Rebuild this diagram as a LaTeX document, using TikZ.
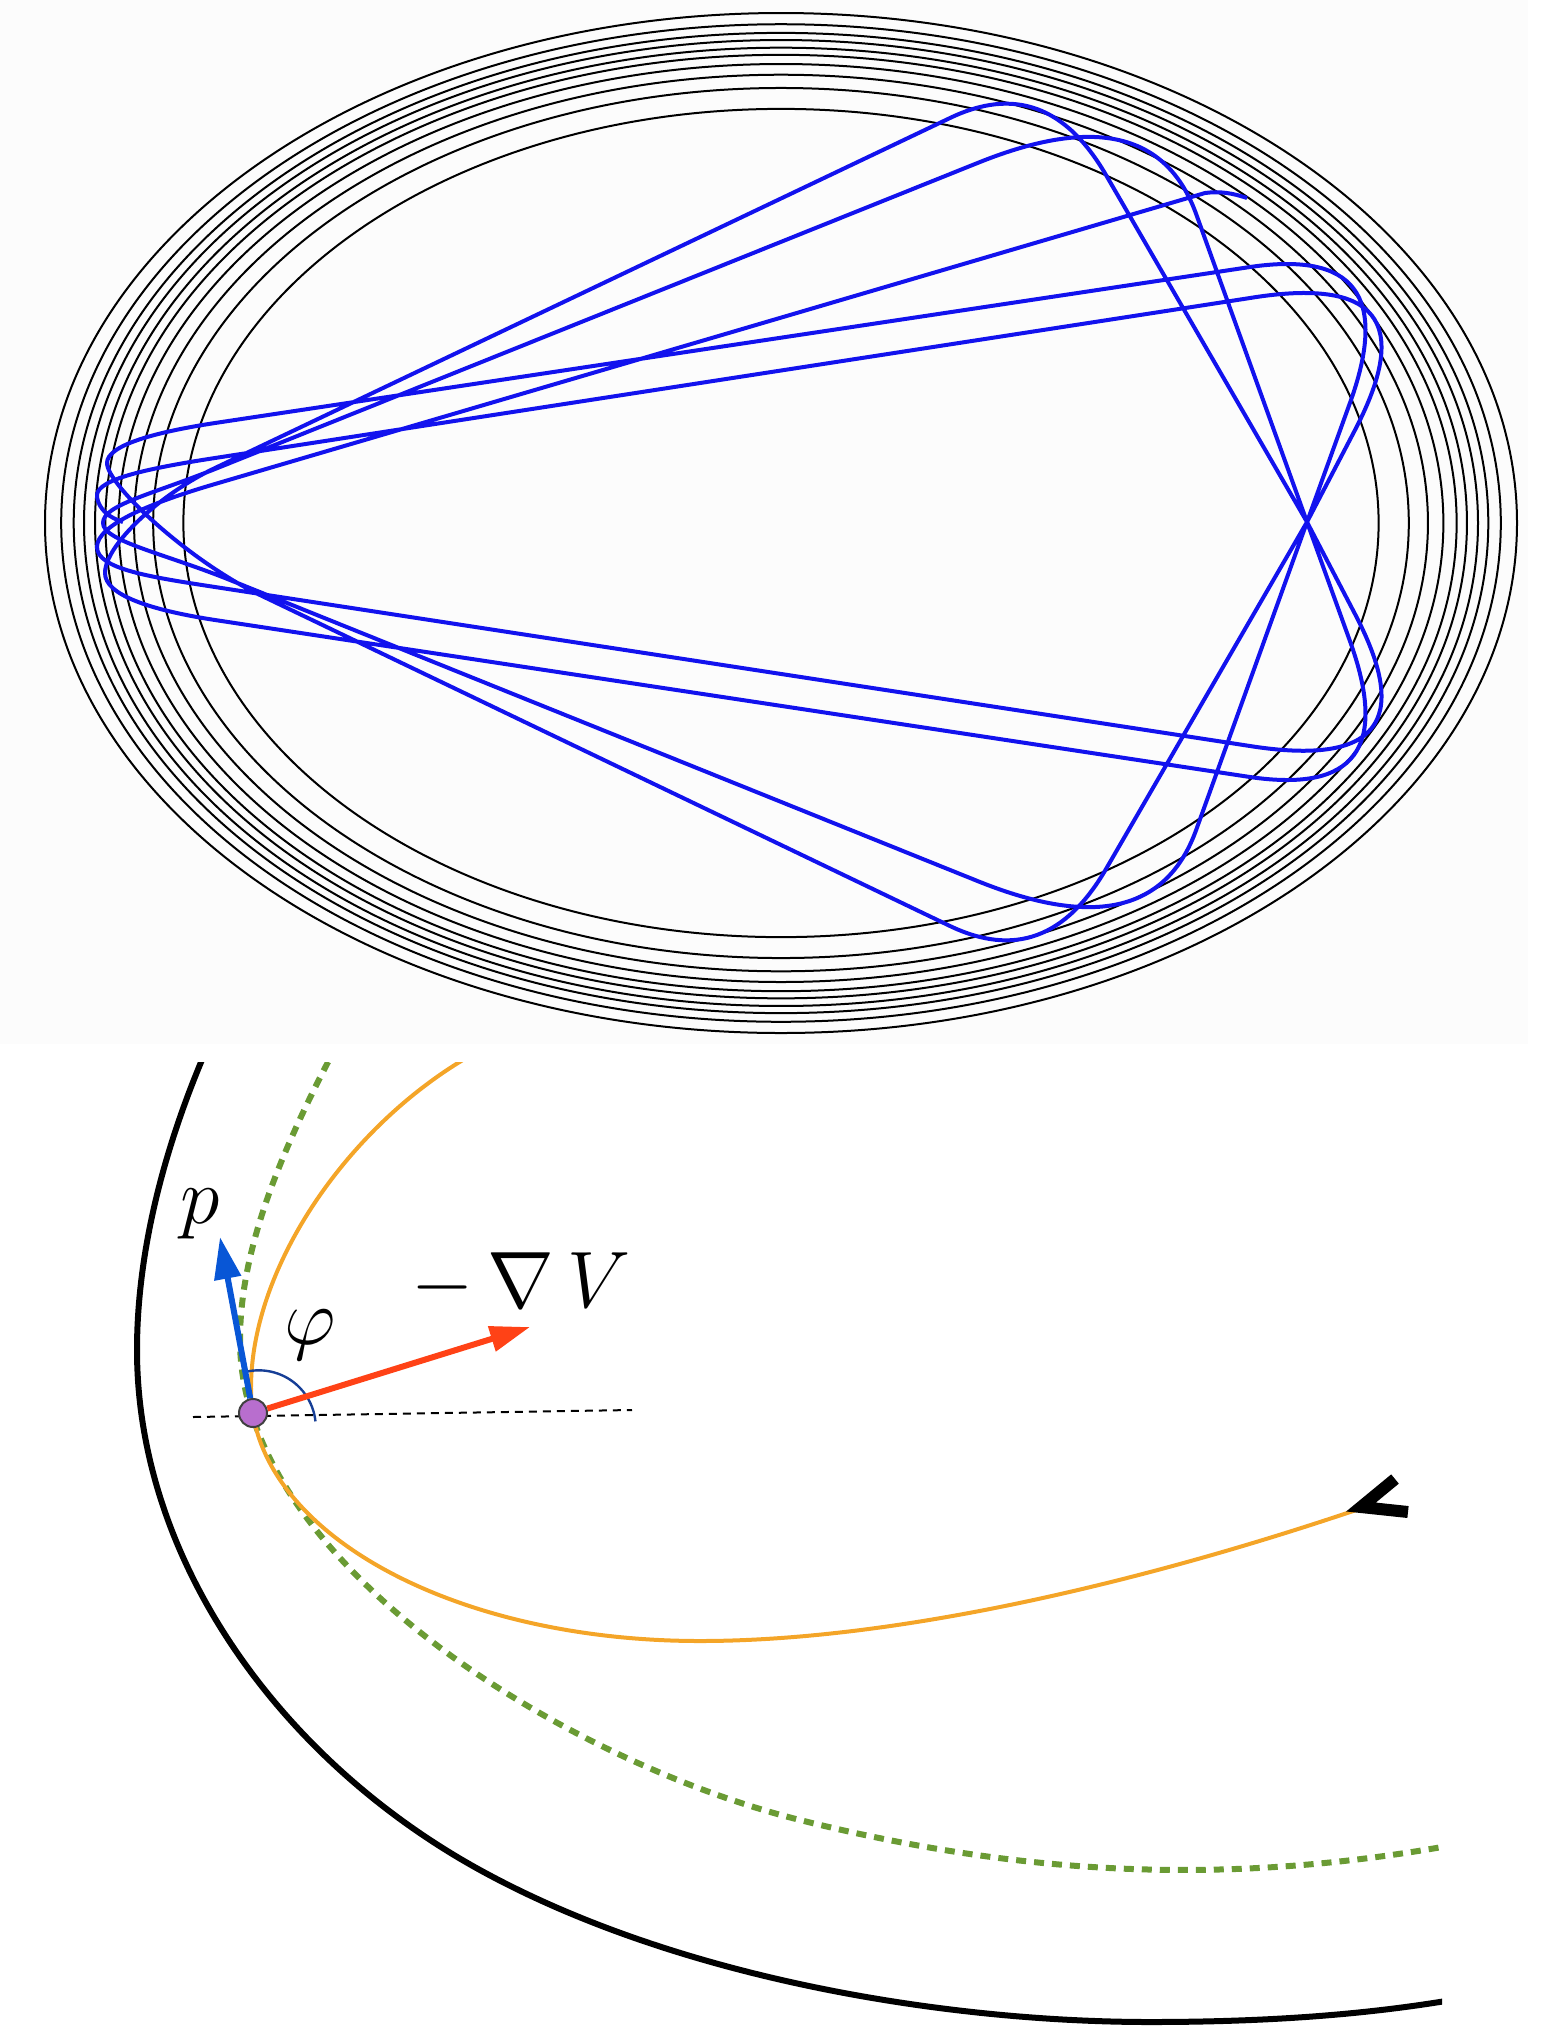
\documentclass[tikz,border=0pt]{standalone}
\usetikzlibrary{arrows.meta,calc}
\definecolor{trajblue}{RGB}{18,18,238}
\definecolor{panelbg}{RGB}{252,252,252}
\definecolor{orangetraj}{RGB}{244,165,40}
\definecolor{greendot}{RGB}{106,155,52}
\definecolor{pblue}{RGB}{8,86,214}
\definecolor{gradred}{RGB}{255,66,22}
\definecolor{ptfill}{RGB}{184,110,206}
\definecolor{arcblue}{RGB}{22,62,150}
\tikzset{
  ring/.style={black, line width=1pt},
  traj/.style={trajblue, line width=2pt, line join=round},
  wall/.style={black, line width=3pt},
  greendots/.style={greendot, line width=3pt, dash pattern=on 5pt off 4pt},
  orangepath/.style={orangetraj, line width=2pt},
  parrow/.style={pblue, line width=3pt, -{Triangle[length=21pt,width=13pt]}},
  garrow/.style={gradred, line width=3pt, -{Triangle[length=20pt,width=12.5pt]}},
  lbl/.style={font=\fontsize{20.74}{25}\selectfont, scale=1.93, transform shape, inner sep=0pt},
}
\newcommand{\qturn}[3]{.. controls ($(#1)!0.67!(#2)$) and ($(#3)!0.67!(#2)$) .. (#3)}
\begin{document}
\begin{tikzpicture}[x=0.5pt,y=-0.5pt]
\useasboundingbox (0,0) rectangle (1558,2026);
% ---------- top panel ----------
\fill[panelbg] (0,0) rectangle (1528,1044);
\foreach \s in {1,0.978,0.961,0.947,0.932,0.918,0.900,0.879,0.853,0.812}
  \draw[ring] (781,523) ellipse [x radius=736*\s, y radius=510*\s];
\draw[traj] (1247,198) .. controls (1232,193) and (1220,191) .. (1205,193)
  -- (215,484) .. controls (150,503) and (97,525) .. (97,547)
               .. controls (97,569) and (150,577) .. (215,587)
  -- (1250,746) \qturn{1250,746}{1440,776}{1355,614}
  -- (1307,522) -- (1106,175) \qturn{1106,175}{1046,72}{950,118}
  -- (215,468) .. controls (160,494) and (105,545) .. (105,573)
               .. controls (105,595) and (150,610) .. (215,620)
  -- (1250,777) \qturn{1250,777}{1406,800}{1351,644}
  -- (1307,522) -- (1196.5,215) \qturn{1196.5,215}{1153,93}{980,162}
  -- (215,469) .. controls (150,495) and (103,505) .. (103,523)
               .. controls (103,541) and (163,553) .. (230,580)
  -- (980,882) \qturn{980,882}{1153,951}{1196.5,829}
  -- (1307,522) -- (1351,400) \qturn{1351,400}{1406,244}{1250,267}
  -- (215,423) .. controls (156,432) and (107,445) .. (107,463)
               .. controls (107,485) and (188,560) .. (260,595)
  -- (950,926) \qturn{950,926}{1046,972}{1106,869}
  -- (1307,522) -- (1355,430) \qturn{1355,430}{1440,267}{1250,298}
  -- (215,458) .. controls (130,471) and (95,482) .. (97,497)
               .. controls (99,510) and (110,518) .. (123,522);
% ---------- bottom panel ----------
\begin{scope}
\clip (0,1062) rectangle (1442,2026);
\draw[wall] (215,1030) .. controls (165,1140) and (137,1250) .. (137,1350)
  .. controls (137,1560) and (280,1760) .. (480,1870)
  .. controls (680,1980) and (950,2022) .. (1150,2022)
  .. controls (1300,2022) and (1400,2010) .. (1480,1995);
\draw[greendots] (345,1030) .. controls (280,1150) and (240,1250) .. (240,1340)
  .. controls (240,1560) and (560,1760) .. (800,1820)
  .. controls (1040,1880) and (1250,1885) .. (1480,1840);
\draw[orangepath] (490,1045) .. controls (360,1110) and (250,1260) .. (251,1390)
  .. controls (251,1530) and (450,1641) .. (700,1641)
  .. controls (900,1641) and (1150,1580) .. (1362,1508);
\end{scope}
\draw[black, line width=6pt] (1395,1479) -- (1361,1507) -- (1408,1512);
\draw[black, line width=1pt, dash pattern=on 4pt off 3pt] (193,1417) -- (632,1410);
\draw[arcblue, line width=1.2pt] (245,1372) arc[start angle=-104, end angle=-6, radius=57];
\node[circle, draw=black!75, line width=1pt, fill=ptfill, minimum size=14pt, inner sep=0pt] (pt) at (253,1413) {};
\coordinate (ptip) at (220,1237);
\coordinate (gtip) at (530,1327);
\draw[parrow] (pt) -- (ptip);
\draw[garrow] (pt) -- (gtip);
\node[lbl] (plabel) at (200,1214) {$p$};
\node[lbl] (philabel) at (310,1335) {$\varphi$};
\node[lbl] (gradlabel) at (521,1283) {$-\,\nabla\, V$};
\end{tikzpicture}
\end{document}
